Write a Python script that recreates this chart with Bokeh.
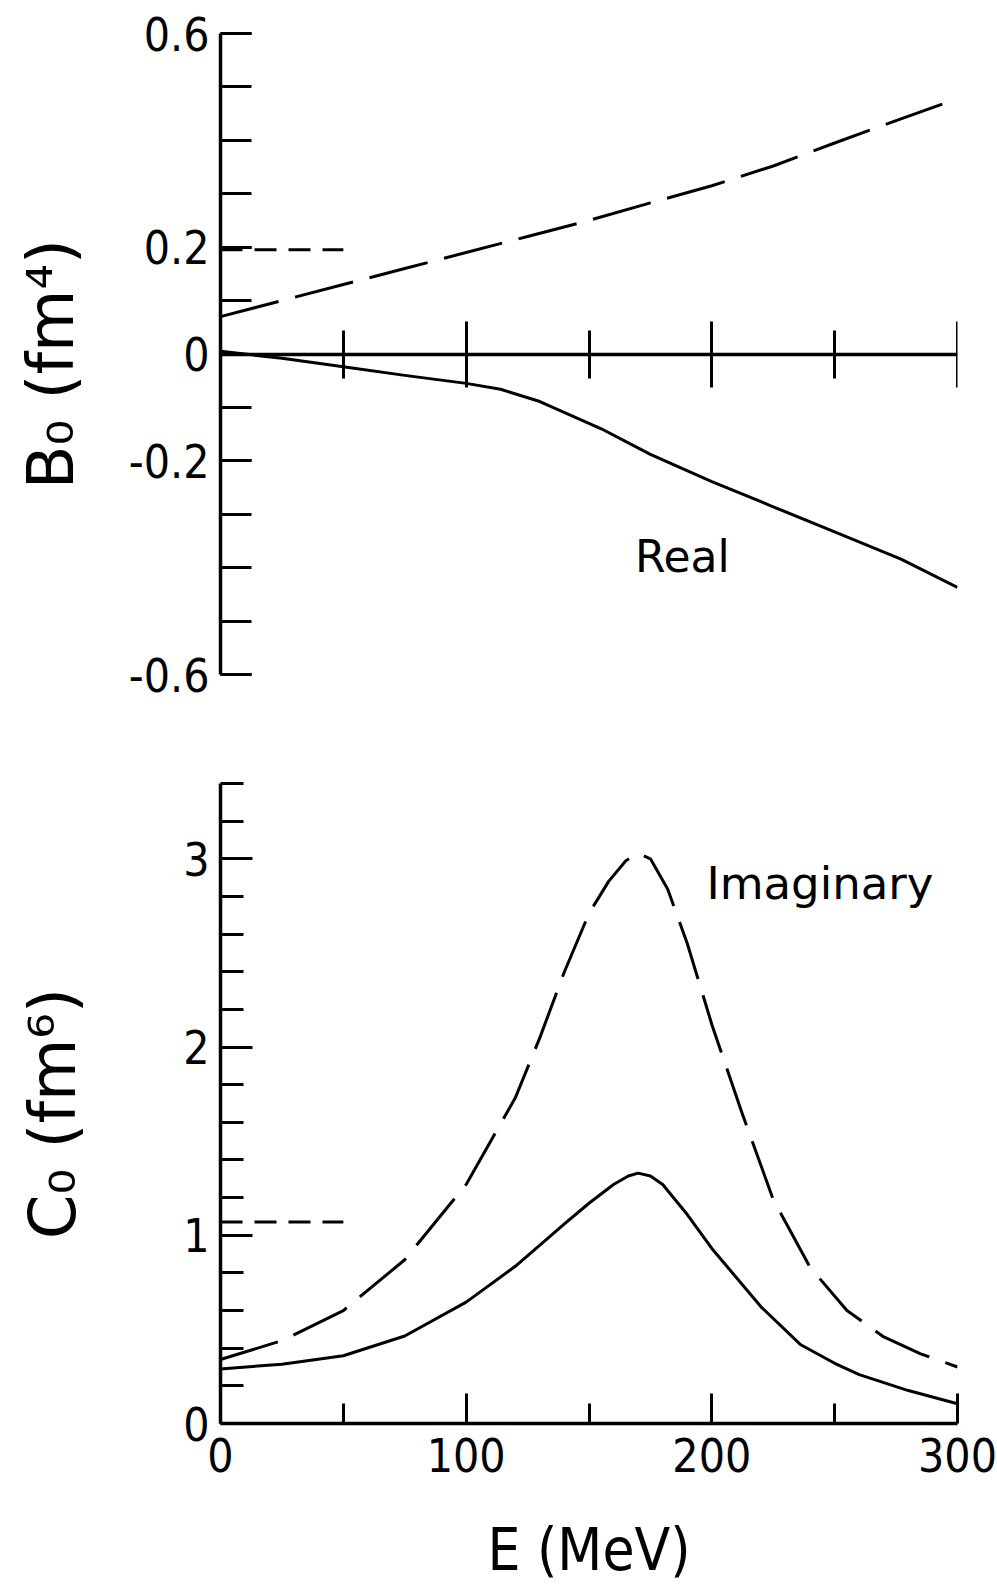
from bokeh.plotting import figure
from bokeh.layouts import column
from bokeh.models import Range1d, LinearAxis, FixedTicker, CustomJSTickFormatter
from bokeh.core.properties import value
from bokeh.embed import file_html
from bokeh.resources import INLINE

# ---------------- data ----------------
# upper panel: B0 (fm^4)
b0_solid_E = [0, 25, 50, 75, 100, 114, 130, 155, 175, 200, 225, 250, 277, 300]
b0_solid = [0.005, -0.008, -0.024, -0.040, -0.055, -0.066, -0.089, -0.140, -0.188,
            -0.239, -0.286, -0.333, -0.384, -0.437]
b0_dashed_E = [0, 25, 50, 75, 100, 125, 150, 175, 200, 225, 250, 275, 300]
b0_dashed = [0.07, 0.10, 0.13, 0.16, 0.19, 0.22, 0.25, 0.283, 0.315, 0.352, 0.395, 0.437, 0.478]
b0_ref_E = [0, 50]
b0_ref = [0.195, 0.195]

# lower panel: C0 (fm^6)
c0_dashed_E = [0, 25, 50, 75, 100, 120, 130, 140, 150, 158, 165, 170, 175, 182, 190,
               200, 212, 225, 240, 255, 270, 285, 300]
c0_dashed = [0.34, 0.44, 0.60, 0.87, 1.27, 1.73, 2.05, 2.40, 2.71, 2.88, 2.99, 3.03,
             3.0, 2.84, 2.55, 2.12, 1.66, 1.19, 0.83, 0.60, 0.46, 0.37, 0.30]
c0_solid_E = [0, 25, 50, 75, 100, 120, 140, 150, 160, 166, 170, 175, 180, 190, 200,
              220, 236, 250, 260, 280, 300]
c0_solid = [0.29, 0.315, 0.36, 0.465, 0.645, 0.835, 1.06, 1.17, 1.27, 1.315, 1.33,
            1.315, 1.27, 1.11, 0.93, 0.62, 0.42, 0.32, 0.26, 0.175, 0.105]
c0_ref_E = [0, 50]
c0_ref = [1.07, 1.07]

# ticks and labels
e_major_ticks = [0, 100, 200, 300]
e_minor_ticks = [50, 150, 250]
b_major_ticks = [-0.6, -0.2, 0.0, 0.2, 0.6]
b_tick_labels = ["-0.6", "-0.2", "0", "0.2", "0.6"]
b_minor_ticks = [-0.6, -0.5, -0.4, -0.3, -0.2, -0.1, 0.0, 0.1, 0.2, 0.3, 0.4, 0.5, 0.6]
c_major_ticks = [0, 1, 2, 3]
c_minor_ticks = [0.2, 0.4, 0.6, 0.8, 1.2, 1.4, 1.6, 1.8, 2.2, 2.4, 2.6, 2.8, 3.2, 3.4]

b_ylabel = "B\u2080  (fm\u2074)"
c_ylabel = "C\u2080  (fm\u2076)"
e_xlabel = "E (MeV)"
real_text = ["Real"]
imag_text = ["Imaginary"]

# ---------------- styling ----------------
NUM_FONT = "Liberation Sans Narrow, DejaVu Sans Condensed, Liberation Sans"
TXT_FONT = "DejaVu Sans"
LW = 3
AXW = 3.5

W = 997
H1 = 730
H2 = 1587 - H1


def base_fig(height, top, bottom):
    p = figure(width=W, height=height, output_backend="svg", toolbar_location=None,
               x_axis_location=None, y_axis_location="left",
               min_border_left=220, min_border_right=40,
               min_border_top=top, min_border_bottom=bottom)
    p.outline_line_color = None
    p.xgrid.visible = False
    p.ygrid.visible = False
    p.background_fill_color = "white"
    p.border_fill_color = "white"
    p.x_range = Range1d(0, 300)
    return p


def style_y(ax, major_in, minor_in, label_standoff, font_size):
    ax.axis_line_width = AXW
    ax.axis_line_color = "black"
    ax.major_tick_in = major_in
    ax.major_tick_out = 0
    ax.minor_tick_in = minor_in
    ax.minor_tick_out = 0
    ax.major_tick_line_width = LW
    ax.minor_tick_line_width = LW
    ax.major_tick_line_color = "black"
    ax.minor_tick_line_color = "black"
    ax.major_label_text_font = NUM_FONT
    ax.major_label_text_font_size = "46px"
    ax.major_label_text_color = "black"
    ax.major_label_standoff = 11
    ax.axis_label_text_font = TXT_FONT
    ax.axis_label_text_font_size = font_size
    ax.axis_label_text_font_style = "normal"
    ax.axis_label_text_color = "black"
    ax.axis_label_standoff = label_standoff


# ---------------- upper panel ----------------
p1 = base_fig(H1, 33, 56)
p1.y_range = Range1d(-0.6, 0.6)
ya1 = p1.yaxis[0]
ya1.ticker = FixedTicker(ticks=b_major_ticks, minor_ticks=b_minor_ticks)
ya1.major_label_overrides = {v: s for v, s in zip(b_major_ticks, b_tick_labels)}
ya1.axis_label = b_ylabel
style_y(ya1, 31, 31, 38, "64px")

xa1 = LinearAxis(fixed_location=0,
                 ticker=FixedTicker(ticks=e_major_ticks[1:], minor_ticks=e_minor_ticks),
                 formatter=CustomJSTickFormatter(code="return ''"))
xa1.axis_line_width = AXW
xa1.axis_line_color = "black"
xa1.major_tick_in = 33
xa1.major_tick_out = 33
xa1.minor_tick_in = 24
xa1.minor_tick_out = 24
xa1.major_tick_line_width = LW
xa1.minor_tick_line_width = LW
xa1.major_tick_line_color = "black"
xa1.minor_tick_line_color = "black"
xa1.major_label_text_font_size = "8px"
xa1.major_label_standoff = 0
p1.add_layout(xa1, "below")

p1.line(b0_solid_E, b0_solid, line_width=LW, color="black", line_join="round")
p1.line(b0_dashed_E, b0_dashed, line_width=LW, color="black", line_dash="60 17",
        line_join="round")
p1.line(b0_ref_E, b0_ref, line_width=LW, color="black", line_dash="22 12")
p1.text(x=[188], y=[-0.38], text=real_text, text_font=value(TXT_FONT),
        text_font_size="44px", text_align="center", text_baseline="middle",
        text_color="black")

# ---------------- lower panel ----------------
p2 = base_fig(H2, 783 - H1, H2 - (783 - H1) - 640)
p2.y_range = Range1d(0, 3.4)
ya2 = p2.yaxis[0]
ya2.ticker = FixedTicker(ticks=c_major_ticks, minor_ticks=c_minor_ticks)
ya2.axis_label = c_ylabel
style_y(ya2, 32, 23, 90, "64px")

xa2 = LinearAxis(ticker=FixedTicker(ticks=e_major_ticks, minor_ticks=e_minor_ticks))
xa2.axis_line_width = AXW
xa2.axis_line_color = "black"
xa2.major_tick_in = 30
xa2.major_tick_out = 0
xa2.minor_tick_in = 20
xa2.minor_tick_out = 0
xa2.major_tick_line_width = LW
xa2.minor_tick_line_width = LW
xa2.major_tick_line_color = "black"
xa2.minor_tick_line_color = "black"
xa2.major_label_text_font = NUM_FONT
xa2.major_label_text_font_size = "46px"
xa2.major_label_text_color = "black"
xa2.major_label_standoff = 14
xa2.axis_label = e_xlabel
xa2.axis_label_text_font = NUM_FONT
xa2.axis_label_text_font_size = "58px"
xa2.axis_label_text_font_style = "normal"
xa2.axis_label_text_color = "black"
xa2.axis_label_standoff = 41
p2.add_layout(xa2, "below")

p2.line(c0_solid_E, c0_solid, line_width=LW, color="black", line_join="round")
p2.line(c0_dashed_E, c0_dashed, line_width=LW, color="black", line_dash="60 17",
        line_join="round")
p2.line(c0_ref_E, c0_ref, line_width=LW, color="black", line_dash="22 12")
p2.text(x=[244], y=[2.87], text=imag_text, text_font=value(TXT_FONT),
        text_font_size="45px", text_align="center", text_baseline="middle",
        text_color="black")

layout = column(p1, p2)
open("out.html", "w").write(file_html(layout, INLINE))
